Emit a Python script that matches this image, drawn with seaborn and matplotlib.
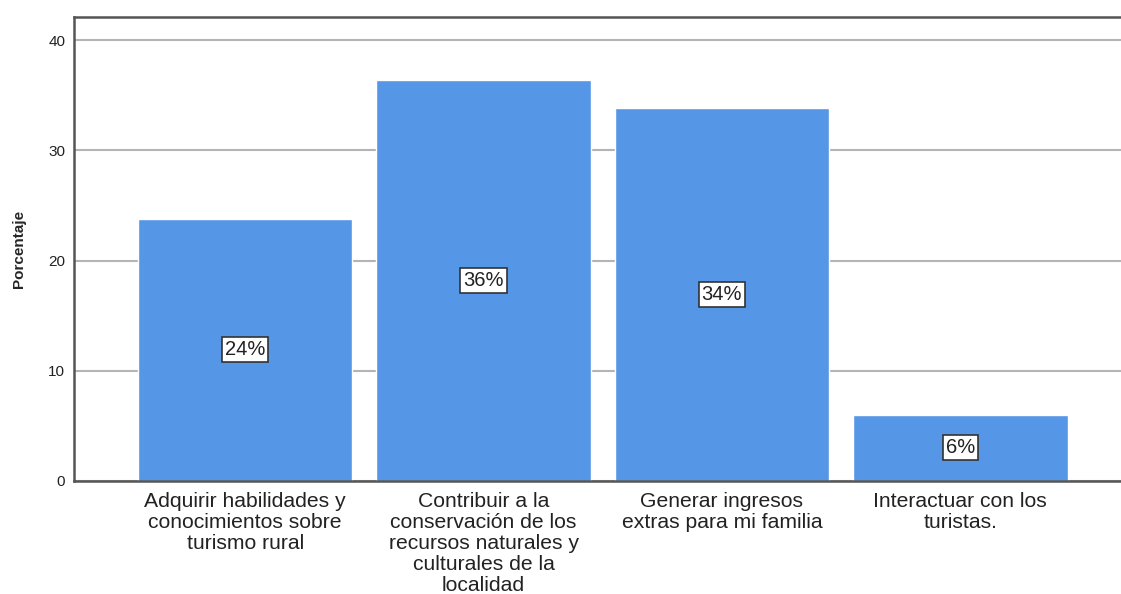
import matplotlib
matplotlib.use("Agg")
import matplotlib.pyplot as plt
import seaborn as sns
import pandas as pd

# ---------- data ----------
categories = [
    "Adquirir habilidades y\nconocimientos sobre\nturismo rural",
    "Contribuir a la\nconservación de los\nrecursos naturales y\nculturales de la\nlocalidad",
    "Generar ingresos\nextras para mi familia",
    "Interactuar con los\nturistas.",
]
porcentajes = [23.8, 36.4, 33.8, 6.0]
etiquetas = ["24%", "36%", "34%", "6%"]
y_ticks = [0, 10, 20, 30, 40]

df = pd.DataFrame({"categoria": categories, "porcentaje": porcentajes})

sns.set_style("white")
plt.rcParams["font.family"] = ["Liberation Sans", "DejaVu Sans"]

fig = plt.figure(figsize=(11.21, 5.94), dpi=100)
ax = fig.add_axes([73.5 / 1121, 113 / 594, 1058.5 / 1121, 464 / 594])

ax.set_axisbelow(True)
ax.yaxis.grid(True, color="#b4b4b4", linewidth=1.5)
ax.xaxis.grid(False)

sns.barplot(data=df, x="categoria", y="porcentaje", color="#5596e6",
            saturation=1, width=0.9, ax=ax, zorder=2)

ax.bar_label(ax.containers[0], labels=etiquetas, label_type="center",
             fontsize=14.5, color="#222222",
             bbox=dict(boxstyle="square,pad=0.15", facecolor="white",
                       edgecolor="#333333", linewidth=1.2))

ax.set_xlim(-0.72, 3.72)
ax.set_ylim(0, 42.1)
ax.set_yticks(y_ticks)
ax.tick_params(axis="y", length=0, pad=6, labelsize=11, labelcolor="#222222")
ax.tick_params(axis="x", length=0, pad=8, labelsize=15.2, labelcolor="#222222")
for lbl in ax.get_xticklabels():
    lbl.set_linespacing(1.13)
    lbl.set_va("top")

ax.set_xlabel("")
ax.set_ylabel("Porcentaje", fontsize=11, fontweight="bold", labelpad=16)

for side in ["left", "top", "bottom"]:
    ax.spines[side].set_color("#555555")
    ax.spines[side].set_linewidth(1.8)
ax.spines["right"].set_visible(False)

fig.savefig("out.png", dpi=100)
